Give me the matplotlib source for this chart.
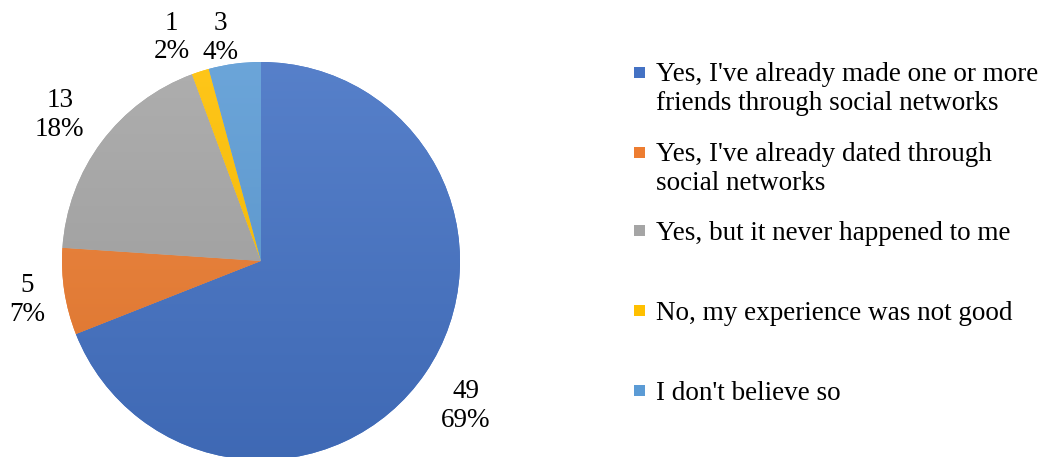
import matplotlib.pyplot as plt
from matplotlib.patches import Rectangle
from matplotlib.colors import to_rgb
import numpy as np

categories = [
    "Yes, I've already made one or more\nfriends through social networks",
    "Yes, I've already dated through\nsocial networks",
    "Yes, but it never happened to me",
    "No, my experience was not good",
    "I don't believe so",
]
counts = [49, 5, 13, 1, 3]
percents = [69, 7, 18, 2, 4]   # as printed on the chart
colors = ["#4472C4", "#ED7D31", "#A5A5A5", "#FFC000", "#5B9BD5"]

# label placement: distance in radii and angular nudge in degrees, by eye
label_dist = [1.26, 1.19, 1.25, 1.21, 1.14]
label_nudge = [-1.0, 0.7, 0.8, 4.1, 2.8]
# legend layout in pixels (baseline of the last line of each entry)
leg_baselines = [110, 190, 240, 320, 400]

W, H = 1043, 457
plt.rcParams['font.family'] = ['Liberation Serif', 'DejaVu Serif']

fig = plt.figure(figsize=(W / 100, H / 100), dpi=100)
cx, cy, r = 261, 261, 199
ax = fig.add_axes([(cx - r) / W, (H - cy - r) / H, 2 * r / W, 2 * r / H])

wedges, _ = ax.pie(counts, colors=colors, startangle=90, counterclock=False,
                   radius=1, wedgeprops=dict(linewidth=0))


def shade(col, f):
    c = np.array(to_rgb(col))
    if f > 0:
        return c + (1 - c) * f
    return c * (1 + f)


# the office-style slight vertical gradient on each slice
t = np.linspace(0, 1, 256)[:, None]
for w, col in zip(wedges, colors):
    top, bot = shade(col, 0.1), shade(col, -0.08)
    grad = (top * (1 - t) + bot * t)[:, None, :]
    im = ax.imshow(grad, extent=(-1, 1, -1, 1), aspect='auto', zorder=2,
                   interpolation='bilinear')
    im.set_clip_path(w)

ax.set_xlim(-1, 1)
ax.set_ylim(-1, 1)
ax.set_aspect('equal')
ax.axis('off')

for w, c, p, d, nd in zip(wedges, counts, percents, label_dist, label_nudge):
    ang = np.deg2rad((w.theta1 + w.theta2) / 2 + nd)
    ax.text(d * np.cos(ang), d * np.sin(ang), f"{c}\n{p}%", ha='center', va='center',
            fontsize=19.5, linespacing=1.2, clip_on=False)

# legend drawn by hand to get the uneven spacing of the original
for lab, col, yb in zip(categories, colors, leg_baselines):
    nlines = lab.count("\n")
    first = yb - 28 * nlines
    fig.patches.append(Rectangle((634 / W, 1 - (first - 4) / H), 11 / W, 11 / H,
                                 transform=fig.transFigure, facecolor=col, edgecolor='none'))
    fig.text(656 / W, 1 - yb / H, lab, ha='left', va='baseline', fontsize=19.5, linespacing=1.2)

fig.savefig('out.png', dpi=100)
